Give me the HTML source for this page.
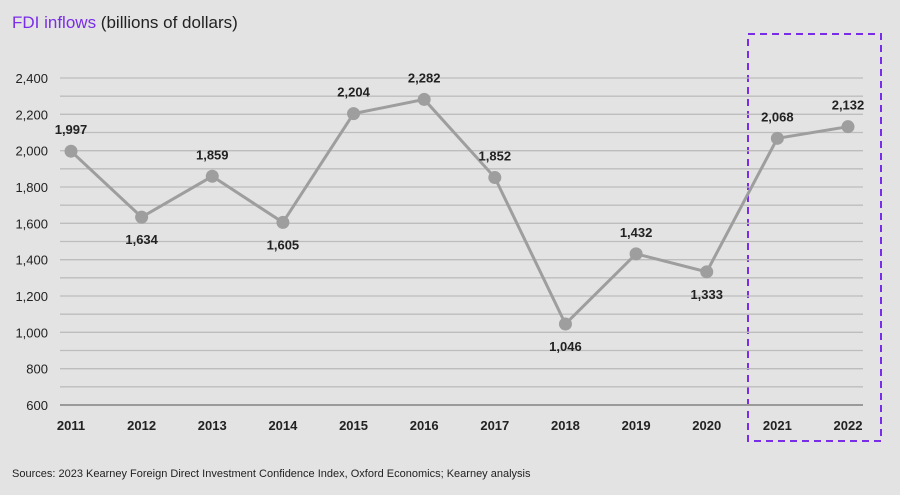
<!DOCTYPE html>
<html><head><meta charset="utf-8"><style>
body{margin:0;background:#e3e3e3;}
svg{display:block;font-family:"Liberation Sans",sans-serif;}
</style></head><body>
<svg id="c" width="900" height="495">
<rect width="900" height="495" fill="#e3e3e3"/>
<text x="12" y="28" font-size="17" fill="#222"><tspan fill="#7a2de8">FDI inflows</tspan> (billions of dollars)</text>
<rect x="748" y="34" width="133" height="407" fill="none" stroke="#7a2de8" stroke-width="2" stroke-dasharray="7,5"/>
<text x="12" y="477" font-size="11" fill="#222">Sources: 2023 Kearney Foreign Direct Investment Confidence Index, Oxford Economics; Kearney analysis</text>
<g id="grid"></g><g id="marks"></g>
</svg>
<script>
const years=["2011","2012","2013","2014","2015","2016","2017","2018","2019","2020","2021","2022"];
const values=[1997,1634,1859,1605,2204,2282,1852,1046,1432,1333,2068,2132];
const yTicks=[600,800,1000,1200,1400,1600,1800,2000,2200,2400];
const labelAbove=[true,false,true,false,true,true,true,false,true,false,true,true];
const ns="http://www.w3.org/2000/svg";
const y=v=>405-(v-600)*(327/1800);
const x=i=>71+i*(777/11);
function mk(t,a,p){const e=document.createElementNS(ns,t);for(const k in a)e.setAttribute(k,a[k]);p.appendChild(e);return e;}
const g=document.getElementById('grid'),m=document.getElementById('marks');
for(let v=600;v<=2400;v+=100){
 const l=mk('line',{x1:60,x2:863,y1:y(v),y2:y(v),stroke:v===600?'#9a9a9a':'#bdbdbd','stroke-width':v===600?2:1.3},g);
 
 
}
yTicks.forEach(v=>{
 const t=mk('text',{x:48,y:y(v)+5,'text-anchor':'end','font-size':13,fill:'#222'},g);
 t.textContent=v.toLocaleString('en-US');
 
 
});
years.forEach((yr,i)=>{
 const t=mk('text',{x:x(i),y:430,'text-anchor':'middle','font-size':13,'font-weight':'bold',fill:'#222'},g);
 t.textContent=yr;
 
 
});
const pl=mk('polyline',{points:values.map((v,i)=>x(i)+','+y(v)).join(' '),fill:'none',stroke:'#9e9e9e','stroke-width':3},m);


values.forEach((v,i)=>{
 const c=mk('circle',{cx:x(i),cy:y(v),r:6.5,fill:'#9e9e9e'},m);
 
 
 const t=mk('text',{x:x(i),y:labelAbove[i]?y(v)-17:y(v)+27,'text-anchor':'middle','font-size':13,'font-weight':'bold',fill:'#222'},m);
 t.textContent=v.toLocaleString('en-US');
 
 
});
</script>
</body></html>
